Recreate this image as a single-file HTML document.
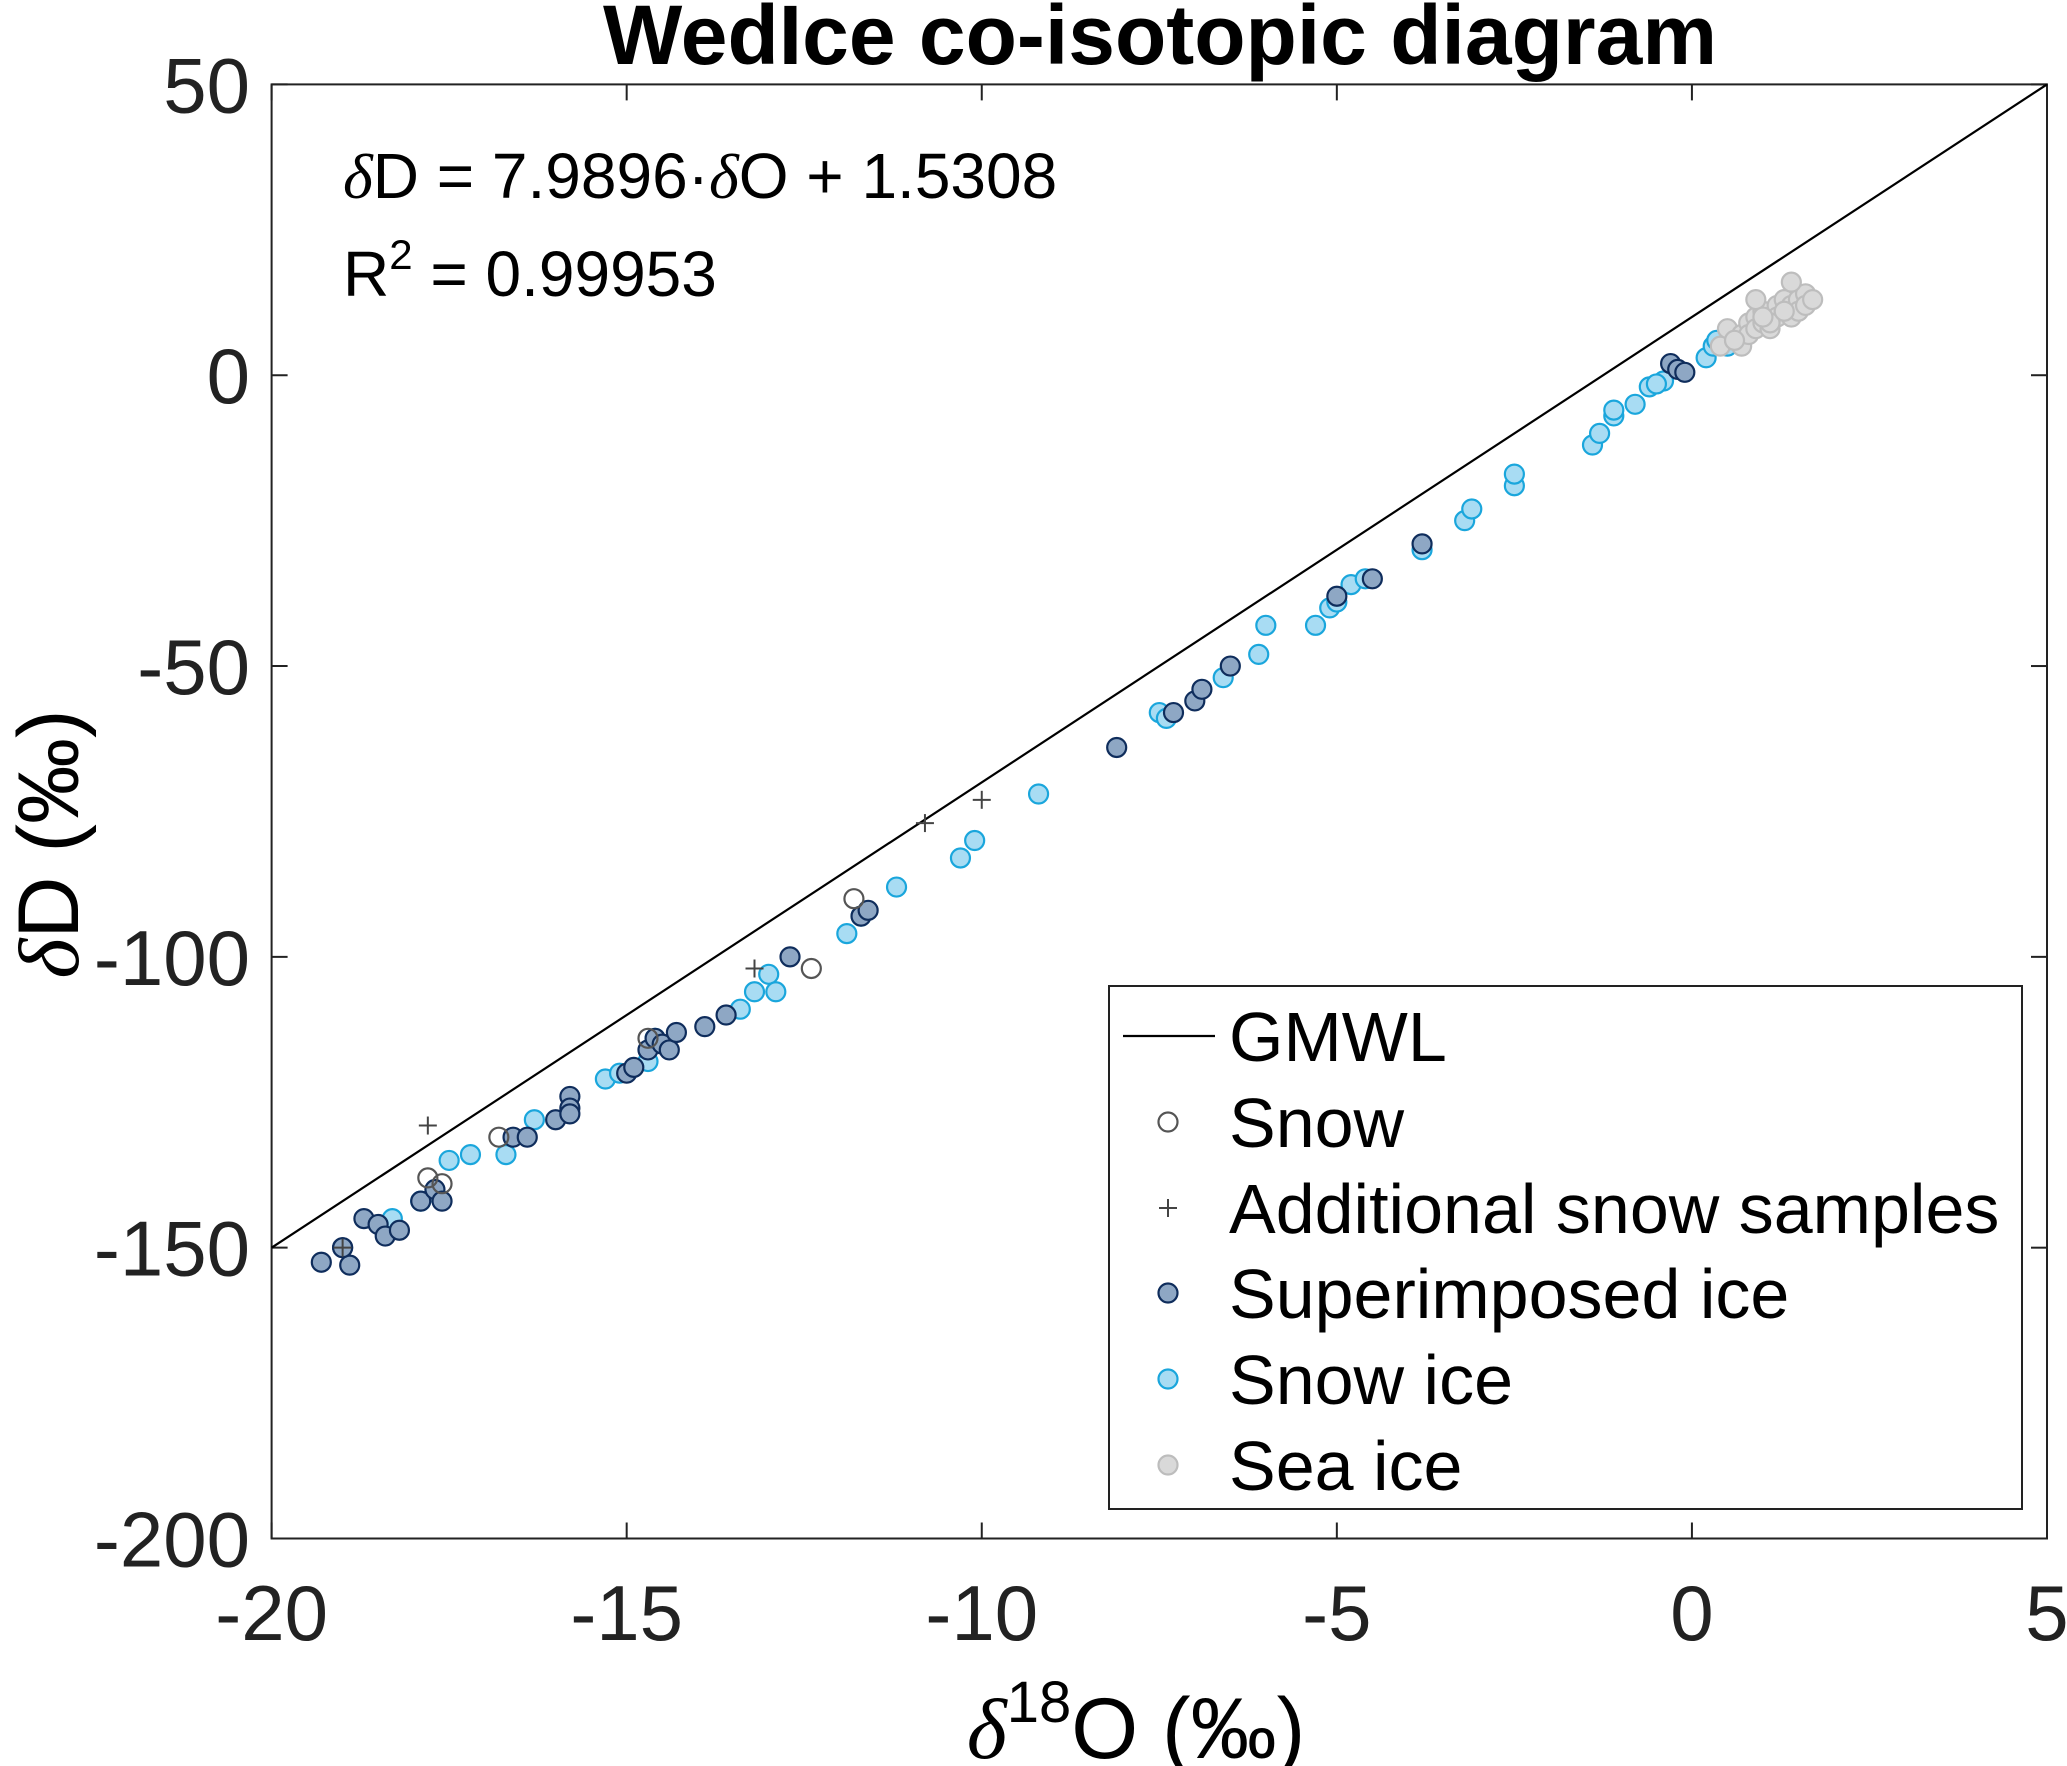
<!DOCTYPE html>
<html><head><meta charset="utf-8"><style>
html,body{margin:0;padding:0;background:#fff;}
svg{display:block;font-family:"Liberation Sans",sans-serif;}
</style></head><body>
<svg id="chart" width="2067" height="1766" viewBox="0 0 2067 1766">
<text x="1160" y="64" font-size="84" font-weight="bold" text-anchor="middle">WedIce co-isotopic diagram</text>
<g id="axes"></g>
<g id="marks"></g>
<text x="343" y="198" font-size="64"><tspan font-family="Liberation Serif" font-style="italic">δ</tspan>D = 7.9896·<tspan font-family="Liberation Serif" font-style="italic">δ</tspan>O + 1.5308</text>
<text x="343" y="296" font-size="64">R<tspan font-size="42" dy="-27">2</tspan><tspan dy="27"> = 0.99953</tspan></text>
<text x="1136" y="1758" font-size="86" text-anchor="middle"><tspan font-family="Liberation Serif" font-style="italic">δ</tspan><tspan font-size="58" dy="-36">18</tspan><tspan dy="36">O (‰)</tspan></text>
<text transform="translate(78,844) rotate(-90)" font-size="86" text-anchor="middle"><tspan font-family="Liberation Serif" font-style="italic">δ</tspan>D (‰)</text>
<g id="legend"></g>
</svg>
<script>
const xTicks=[-20,-15,-10,-5,0,5];
const yTicks=[50,0,-50,-100,-150,-200];
const snowX=[-17.8,-17.6,-16.8,-12.4,-11.8,-14.7];
const snowY=[-138,-139,-131,-102,-90,-114];
const addX=[-17.8,-13.2,-10.8,-10.0,-19.0];
const addY=[-129,-102,-77,-73,-150];
const supX=[-19.3,-19.0,-18.9,-18.7,-18.5,-18.4,-18.2,-17.9,-17.7,-17.6,-16.6,-16.4,-16.0,-15.8,-15.8,-15.8,-15.0,-14.9,-14.7,-14.6,-14.5,-14.4,-14.3,-13.9,-13.6,-12.7,-11.7,-11.6,-8.1,-7.3,-7.0,-6.9,-6.5,-5.0,-4.5,-3.8,-0.3,-0.2,-0.1,-19.0];
const supY=[-152.5,-150,-153,-145,-146,-148,-147,-142,-140,-142,-131,-131,-128,-124,-126,-127,-120,-119,-116,-114,-115,-116,-113,-112,-110,-100,-93,-92,-64,-58,-56,-54,-50,-38,-35,-29,2,1,0.5,-150];
const sniX=[-18.3,-17.9,-17.5,-17.2,-16.7,-16.3,-15.3,-15.1,-14.7,-14.6,-13.4,-13.2,-13.0,-12.9,-11.9,-11.7,-11.2,-10.3,-10.1,-9.2,-7.5,-7.4,-6.6,-6.1,-6.0,-5.3,-5.1,-5.0,-4.8,-4.6,-3.8,-3.2,-3.1,-2.5,-2.5,-1.4,-1.3,-1.1,-1.1,-0.8,-0.6,-0.4,-0.5,0.2,0.3,0.35,0.5];
const sniY=[-145,-142,-135,-134,-134,-128,-121,-120,-118,-114,-109,-106,-103,-106,-96,-93,-88,-83,-80,-72,-58,-59,-52,-48,-43,-43,-40,-39,-36,-35,-30,-25,-23,-19,-17,-12,-10,-7,-6,-5,-2,-1,-1.5,3,5,6,5];
const seaX=[0.4,0.5,0.6,0.7,0.7,0.8,0.8,0.9,0.9,1.0,1.0,1.1,1.1,1.2,1.2,1.3,1.3,1.4,1.4,1.5,1.5,1.6,1.6,1.7,0.9,1.1,1.4,0.6,1.3,1.0];
const seaY=[5,8,6,7,5,9,7,10,8,11,9,10,8,12,10,11,13,12,10,13,11,14,12,13,13,9,16,6,11,10];
const L=271.6,R=2047,T=84.4,B=1538.5;
const xs=v=>L+(v+20)/25*(R-L);
const ys=v=>T+(50-v)/250*(B-T);
const NS="http://www.w3.org/2000/svg";
function mk(tag,attrs,parent){const e=document.createElementNS(NS,tag);for(const k in attrs)e.setAttribute(k,attrs[k]);parent.appendChild(e);return e;}
const ax=document.getElementById('axes'),mg=document.getElementById('marks'),lg=document.getElementById('legend');
const frame=mk('rect',{x:L,y:T,width:R-L,height:B-T,fill:'none',stroke:'#222','stroke-width':2},ax);


xTicks.forEach(t=>{
 mk('line',{x1:xs(t),x2:xs(t),y1:B,y2:B-16,stroke:'#222','stroke-width':2},ax);
 mk('line',{x1:xs(t),x2:xs(t),y1:T,y2:T+16,stroke:'#222','stroke-width':2},ax);
 const tx=mk('text',{x:xs(t),y:1640,'font-size':78,'text-anchor':'middle',fill:'#222'},ax);tx.textContent=t;
 
 
});
yTicks.forEach(t=>{
 mk('line',{x1:L,x2:L+16,y1:ys(t),y2:ys(t),stroke:'#222','stroke-width':2},ax);
 mk('line',{x1:R,x2:R-16,y1:ys(t),y2:ys(t),stroke:'#222','stroke-width':2},ax);
 const tx=mk('text',{x:250,y:ys(t)+28,'font-size':78,'text-anchor':'end',fill:'#222'},ax);tx.textContent=t;
 
 
});
const gm=mk('line',{x1:xs(-20),y1:ys(-150),x2:xs(5),y2:ys(50),stroke:'#000','stroke-width':2.2},mg);


function circles(X,Y,fill,stroke,name){X.forEach((x,i)=>{const c=mk('circle',{cx:xs(x),cy:ys(Y[i]),r:9.5,fill:fill,stroke:stroke,'stroke-width':2.2},mg);
 
 });}
function plus(cx,cy,parent){const g=mk('g',{stroke:'#444','stroke-width':2},parent);mk('line',{x1:cx-9,x2:cx+9,y1:cy,y2:cy},g);mk('line',{x1:cx,x2:cx,y1:cy-9,y2:cy+9},g);return g;}
circles(sniX,sniY,'#a8dcf3','#1aa6dc','snow-ice-point');
circles(seaX,seaY,'#d9d9d9','#bdbdbd','sea-ice-point');
circles(supX,supY,'#8ea7c4','#0f2d5c','superimposed-ice-point');
circles(snowX,snowY,'none','#555','snow-point');
addX.forEach((x,i)=>{const g=plus(xs(x),ys(addY[i]),mg);
 
 });
mk('rect',{x:1109,y:986,width:913,height:523,fill:'#fff',stroke:'#222','stroke-width':2},lg);
const rows=[['GMWL','line'],['Snow','snow'],['Additional snow samples','plus'],['Superimposed ice','sup'],['Snow ice','sni'],['Sea ice','sea']];
const rowY=[1036,1122,1208,1293,1379,1465];
rows.forEach((r,i)=>{const y=rowY[i];
 if(r[1]=='line')mk('line',{x1:1123,x2:1215,y1:y,y2:y,stroke:'#000','stroke-width':2.2},lg);
 else if(r[1]=='plus')plus(1168,y,lg);
 else{const st={snow:['none','#555'],sup:['#8ea7c4','#0f2d5c'],sni:['#a8dcf3','#1aa6dc'],sea:['#d9d9d9','#bdbdbd']}[r[1]];
  mk('circle',{cx:1168,cy:y,r:9.5,fill:st[0],stroke:st[1],'stroke-width':2.2},lg);}
 const t=mk('text',{x:1229,y:y+25,'font-size':70,fill:'#000'},lg);t.textContent=r[0];
 
 
});
</script>
</body></html>
